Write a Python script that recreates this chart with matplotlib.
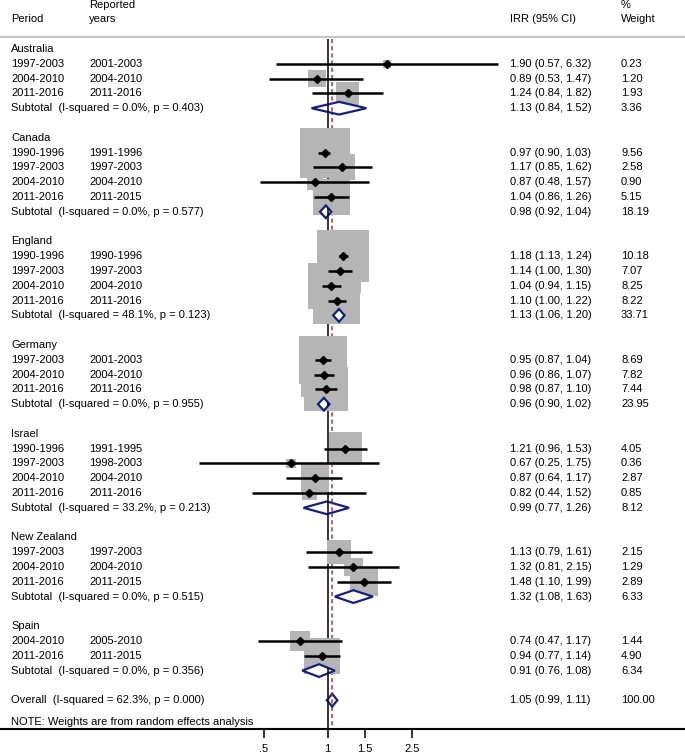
import numpy as np
import matplotlib
matplotlib.use('Agg')
import matplotlib.pyplot as plt
from matplotlib.patches import Polygon
from matplotlib.transforms import blended_transform_factory

plt.rcParams['font.family'] = ['Liberation Sans', 'DejaVu Sans']

# data
countries = ['Australia', 'Canada', 'England', 'Germany', 'Israel', 'New Zealand', 'Spain']
period = [['1997-2003', '2004-2010', '2011-2016'],
          ['1990-1996', '1997-2003', '2004-2010', '2011-2016'],
          ['1990-1996', '1997-2003', '2004-2010', '2011-2016'],
          ['1997-2003', '2004-2010', '2011-2016'],
          ['1990-1996', '1997-2003', '2004-2010', '2011-2016'],
          ['1997-2003', '2004-2010', '2011-2016'],
          ['2004-2010', '2011-2016']]
reported = [['2001-2003', '2004-2010', '2011-2016'],
            ['1991-1996', '1997-2003', '2004-2010', '2011-2015'],
            ['1990-1996', '1997-2003', '2004-2010', '2011-2016'],
            ['2001-2003', '2004-2010', '2011-2016'],
            ['1991-1995', '1998-2003', '2004-2010', '2011-2016'],
            ['1997-2003', '2004-2010', '2011-2015'],
            ['2005-2010', '2011-2015']]
irr = [[1.90, 0.89, 1.24], [0.97, 1.17, 0.87, 1.04], [1.18, 1.14, 1.04, 1.10],
       [0.95, 0.96, 0.98], [1.21, 0.67, 0.87, 0.82], [1.13, 1.32, 1.48], [0.74, 0.94]]
ci_lo = [[0.57, 0.53, 0.84], [0.90, 0.85, 0.48, 0.86], [1.13, 1.00, 0.94, 1.00],
         [0.87, 0.86, 0.87], [0.96, 0.25, 0.64, 0.44], [0.79, 0.81, 1.10], [0.47, 0.77]]
ci_hi = [[6.32, 1.47, 1.82], [1.03, 1.62, 1.57, 1.26], [1.24, 1.30, 1.15, 1.22],
         [1.04, 1.07, 1.10], [1.53, 1.75, 1.17, 1.52], [1.61, 2.15, 1.99], [1.17, 1.14]]
weight = [[0.23, 1.20, 1.93], [9.56, 2.58, 0.90, 5.15], [10.18, 7.07, 8.25, 8.22],
          [8.69, 7.82, 7.44], [4.05, 0.36, 2.87, 0.85], [2.15, 1.29, 2.89], [1.44, 4.90]]

sub_i2 = [0.0, 0.0, 48.1, 0.0, 33.2, 0.0, 0.0]
sub_p = [0.403, 0.577, 0.123, 0.955, 0.213, 0.515, 0.356]
sub_irr = [1.13, 0.98, 1.13, 0.96, 0.99, 1.32, 0.91]
sub_lo = [0.84, 0.92, 1.06, 0.90, 0.77, 1.08, 0.76]
sub_hi = [1.52, 1.04, 1.20, 1.02, 1.26, 1.63, 1.08]
sub_w = [3.36, 18.19, 33.71, 23.95, 8.12, 6.33, 6.34]

overall = dict(irr=1.05, lo=0.99, hi=1.11, w=100.00, i2=62.3, p=0.000)

xticks = [0.5, 1, 1.5, 2.5]
xticklabels = ['.5', '1', '1.5', '2.5']

# layout (pixels of a 685x755 canvas)
W, H = 685, 755
px_one, px_per_log = 327.7, 92.5
row0_px, row_px = 49.0, 14.8
axis_px = 729.0

def row_of(py):
    return (py - row0_px) / row_px

fig = plt.figure(figsize=(W / 100, H / 100), dpi=100)
ax = fig.add_axes([0, (H - axis_px) / H, 1, axis_px / H])
ax.set_xscale('log')
ax.set_xlim(np.exp(-px_one / px_per_log), np.exp((W - px_one) / px_per_log))
y_bot, y_top = row_of(axis_px), row_of(0)
ax.set_ylim(y_bot, y_top)

tr = blended_transform_factory(ax.transAxes, ax.transData)
fs = 8.0
col_x = [11 / W, 89 / W, 510 / W, 621 / W]

def txt(col, y, s):
    ax.text(col_x[col], y, s, transform=tr, fontsize=fs, va='center', ha='left')

# header
txt(1, row_of(5.5), 'Reported')
txt(3, row_of(5.5), '%')
txt(0, row_of(19.5), 'Period')
txt(1, row_of(19.5), 'years')
txt(2, row_of(19.5), 'IRR (95% CI)')
txt(3, row_of(19.5), 'Weight')
ax.plot([0, 1], [row_of(37.3)] * 2, transform=tr, color='#c4c4c4', lw=1.5, clip_on=False)

line_top = row_of(38.5)
zero_kw = dict(color='black', lw=1.1)
ov_kw = dict(color='#a8353f', lw=1.1, linestyles=(0, (2.7, 2.0)))
ax.vlines(1, line_top, y_bot, zorder=1, **zero_kw)
ax.vlines(overall['irr'], line_top, y_bot, zorder=1, **ov_kw)

dia_h = 0.43
navy = '#15207c'

def diamond(est, lo, hi, r):
    p = Polygon([(lo, r), (est, r - dia_h), (hi, r), (est, r + dia_h)], closed=True,
                facecolor='white', edgecolor=navy, lw=1.6, joinstyle='miter', zorder=3)
    ax.add_patch(p)
    # reference lines show through the diamond
    for v in ax.vlines(1, r - 1, r + 1, zorder=3.5, **zero_kw), \
             ax.vlines(overall['irr'], r - 1, r + 1, zorder=3.5, **ov_kw):
        v.set_clip_path(p)

r = 0
for g, name in enumerate(countries):
    txt(0, r, name)
    rows = np.arange(len(irr[g])) + r + 1
    for k, rr in enumerate(rows):
        txt(0, rr, period[g][k])
        txt(1, rr, reported[g][k])
        txt(2, rr, f'{irr[g][k]:.2f} ({ci_lo[g][k]:.2f}, {ci_hi[g][k]:.2f})')
        txt(3, rr, f'{weight[g][k]:.2f}')
    ax.scatter(irr[g], rows, s=136 * np.array(weight[g]), marker='s',
               color='#b5b5b5', linewidths=0, zorder=2)
    ax.hlines(rows, ci_lo[g], ci_hi[g], color='black', lw=1.8, zorder=4)
    ax.plot(irr[g], rows, 'D', color='black', ms=3.8, zorder=5)
    rs = rows[-1] + 1
    txt(0, rs, f'Subtotal  (I-squared = {sub_i2[g]:.1f}%, p = {sub_p[g]:.3f})')
    txt(2, rs, f'{sub_irr[g]:.2f} ({sub_lo[g]:.2f}, {sub_hi[g]:.2f})')
    txt(3, rs, f'{sub_w[g]:.2f}')
    diamond(sub_irr[g], sub_lo[g], sub_hi[g], rs)
    r = rs + 2

txt(0, r, f"Overall  (I-squared = {overall['i2']:.1f}%, p = {overall['p']:.3f})")
txt(2, r, f"{overall['irr']:.2f} ({overall['lo']:.2f}, {overall['hi']:.2f})")
txt(3, r, f"{overall['w']:.2f}")
diamond(overall['irr'], overall['lo'], overall['hi'], r)
txt(0, row_of(722), 'NOTE: Weights are from random effects analysis')

for s in ['top', 'left', 'right']:
    ax.spines[s].set_visible(False)
ax.spines['bottom'].set_linewidth(1.5)
ax.set_yticks([])
ax.set_xticks(xticks)
ax.set_xticklabels(xticklabels)
ax.minorticks_off()
ax.tick_params(axis='x', direction='out', length=6.5, width=1.1, pad=4, labelsize=fs)
ax.patch.set_alpha(0)

fig.savefig('out.png', dpi=100)
